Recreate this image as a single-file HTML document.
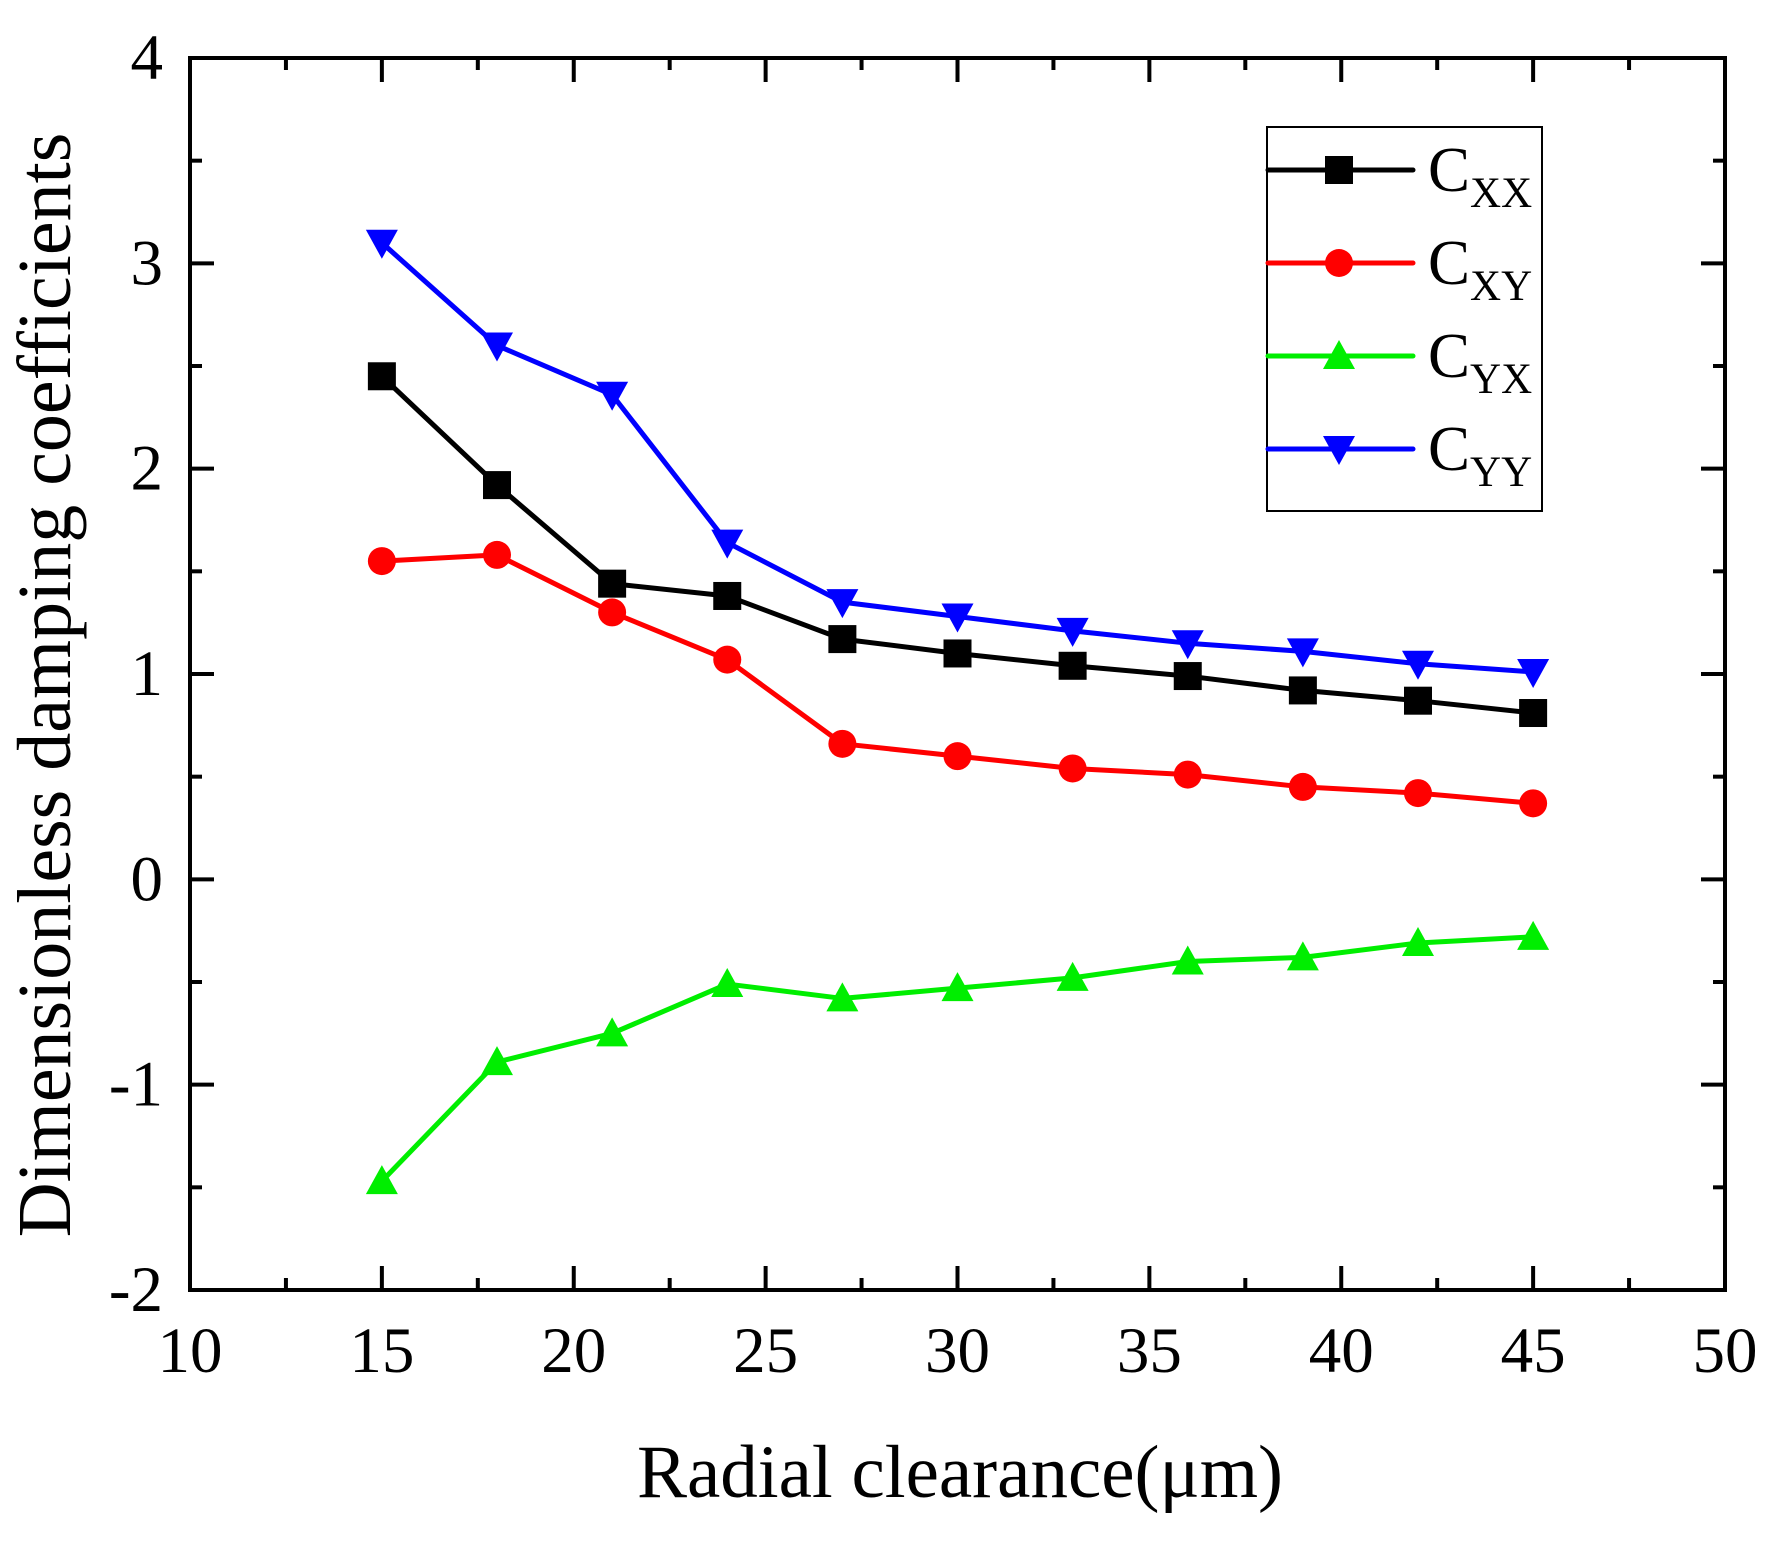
<!DOCTYPE html>
<html><head><meta charset="utf-8"><style>
body{margin:0;background:#fff}
svg{display:block;font-family:"Liberation Serif",serif}
</style></head><body>
<svg id="chart" width="1777" height="1542" viewBox="0 0 1777 1542"></svg>
<script>
const xValues=[15,18,21,24,27,30,33,36,39,42,45];
const cxx=[2.45,1.92,1.44,1.38,1.17,1.10,1.04,0.99,0.92,0.87,0.81];
const cxy=[1.55,1.58,1.30,1.07,0.66,0.60,0.54,0.51,0.45,0.42,0.37];
const cyx=[-1.47,-0.89,-0.75,-0.51,-0.58,-0.53,-0.48,-0.40,-0.38,-0.31,-0.28];
const cyy=[3.10,2.60,2.36,1.64,1.35,1.28,1.21,1.15,1.11,1.05,1.01];
const xTicks=[10,15,20,25,30,35,40,45,50];
const yTicks=[-2,-1,0,1,2,3,4];
const seriesNames=["XX","XY","YX","YY"];

const NS="http://www.w3.org/2000/svg";
const svg=document.getElementById('chart');
const L=190,R=1725,T=58,B=1290;
const xs=v=>L+(v-10)/40*(R-L);
const ys=v=>B-(v+2)/6*(B-T);
function mk(tag,attrs,parent){const e=document.createElementNS(NS,tag);for(const k in attrs)e.setAttribute(k,attrs[k]);(parent||svg).appendChild(e);return e;}

const ticks=mk('g',{stroke:'#000','stroke-width':4});


for(let v=10;v<=50;v+=2.5){const x=xs(v);const len=(v%5===0)?24:12;
 mk('line',{x1:x,y1:B,x2:x,y2:B-len},ticks);mk('line',{x1:x,y1:T,x2:x,y2:T+len},ticks);}
for(let v=-2;v<=4;v+=0.5){const y=ys(v);const len=(Number.isInteger(v))?24:12;
 mk('line',{x1:L,y1:y,x2:L+len,y2:y},ticks);mk('line',{x1:R,y1:y,x2:R-len,y2:y},ticks);}
const frame=mk('rect',{x:L,y:T,width:R-L,height:B-T,fill:'none',stroke:'#000','stroke-width':4});



xTicks.forEach(v=>{const t=mk('text',{x:xs(v),y:1372,'font-size':65,'text-anchor':'middle'});t.textContent=v;
 
 });
yTicks.forEach(v=>{const t=mk('text',{x:163,y:ys(v)+21,'font-size':65,'text-anchor':'end'});t.textContent=v;
 
 });

const xt=mk('text',{x:960,y:1497,'font-size':75,'text-anchor':'middle'});xt.textContent='Radial clearance(μm)';


const yt=mk('text',{x:0,y:0,'font-size':76,'text-anchor':'middle',transform:'translate(70,685) rotate(-90)'});yt.textContent='Dimensionless damping coefficients';



function marker(type,x,y,color,parent){
 const s=14;
 if(type==='square')return mk('rect',{x:x-s,y:y-s,width:2*s,height:2*s,fill:color},parent);
 if(type==='circle')return mk('circle',{cx:x,cy:y,r:s,fill:color},parent);
 if(type==='up')return mk('polygon',{points:`${x},${y-16} ${x-16},${y+13} ${x+16},${y+13}`,fill:color},parent);
 return mk('polygon',{points:`${x},${y+16} ${x-16},${y-13} ${x+16},${y-13}`,fill:color},parent);
}
const series=[[cxx,'#000','square'],[cxy,'#ff0000','circle'],[cyx,'#00ee00','up'],[cyy,'#0000ff','down']];
series.forEach(([vals,color,type],i)=>{
 const g=mk('g',{});
 
 
 mk('polyline',{points:vals.map((v,j)=>xs(xValues[j])+','+ys(v)).join(' '),fill:'none',stroke:color,'stroke-width':5,'stroke-linejoin':'round'},g);
 vals.forEach((v,j)=>{const m=marker(type,xs(xValues[j]),ys(v),color,g);
  
  });
});

const lg=mk('g',{});


mk('rect',{x:1267,y:127,width:275,height:384,fill:'#fff',stroke:'#000','stroke-width':2},lg);
series.forEach(([vals,color,type],i)=>{
 const y=170+i*93;
 const e=mk('g',{},lg);
 
 
 mk('line',{x1:1268,y1:y,x2:1413,y2:y,stroke:color,'stroke-width':5,'stroke-linecap':'round'},e);
 marker(type,1339,y,color,e);
 const t=mk('text',{x:1428,y:y+21,'font-size':63},e);
 t.textContent='C';
 const sub=mk('tspan',{dy:16,'font-size':43},t);sub.textContent=seriesNames[i];
});
</script>
</body></html>
